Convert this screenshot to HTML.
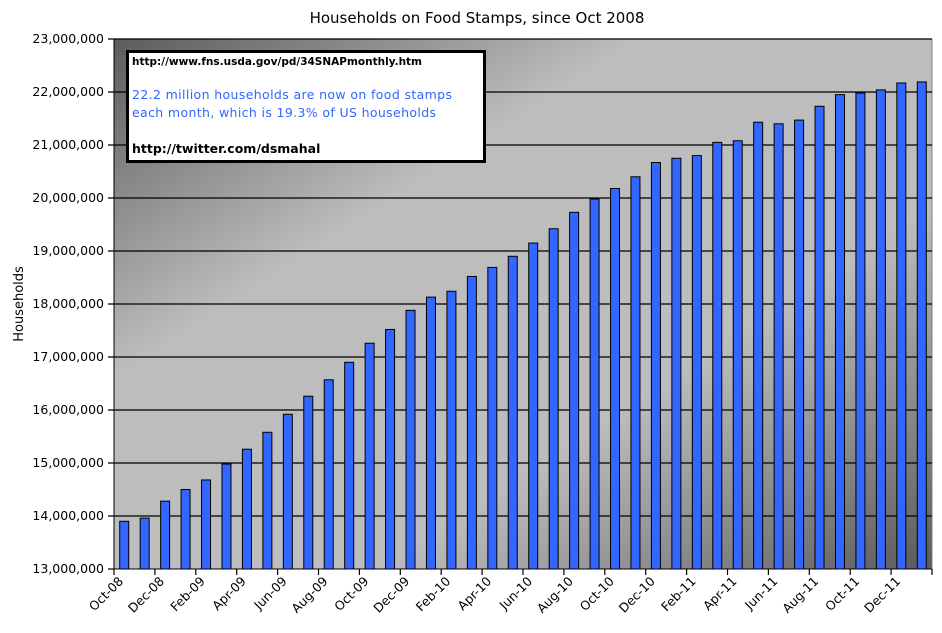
<!DOCTYPE html>
<html><head><meta charset="utf-8"><style>body{margin:0;background:#fff}svg{display:block}text{font-family:"DejaVu Sans","Liberation Sans",sans-serif}</style></head><body>
<svg width="942" height="633" xmlns="http://www.w3.org/2000/svg">
<defs><linearGradient id="g" x1="0" y1="0" x2="1" y2="1" gradientUnits="objectBoundingBox">
<stop offset="0" stop-color="#5c5c5c"/><stop offset="0.32" stop-color="#bdbdbd"/><stop offset="0.66" stop-color="#bdbdbd"/><stop offset="1" stop-color="#5a5a5a"/></linearGradient></defs>
<text x="477" y="23" font-size="15" text-anchor="middle" font-weight="500">Households on Food Stamps, since Oct 2008</text>
<rect x="114" y="39" width="818" height="530" fill="url(#g)" stroke="#808080"/>
<g id="grid" stroke="#000" stroke-width="1.2"></g>
<g id="bars"></g>
<line x1="114" y1="39" x2="114" y2="569" stroke="#000"/>
<line x1="114" y1="569" x2="932" y2="569" stroke="#000"/>
<g id="yl" font-size="12.5" text-anchor="end"></g>
<g id="xl" font-size="12.5" text-anchor="end"></g>
<text transform="translate(23,304) rotate(-90)" font-size="13" text-anchor="middle">Households</text>
<rect x="127.5" y="51.5" width="357" height="110" fill="#fff" stroke="#000" stroke-width="3"/>
<text x="132" y="65" font-size="10.5" font-weight="bold">http://www.fns.usda.gov/pd/34SNAPmonthly.htm</text>
<text x="132" y="99" font-size="12.5" fill="#3366ff" textLength="320">22.2 million households are now on food stamps</text>
<text x="132" y="117" font-size="12.5" fill="#3366ff" textLength="304">each month, which is 19.3% of US households</text>
<text x="132" y="153" font-size="12.5" font-weight="bold">http://twitter.com/dsmahal</text>
</svg>
<script>
var v=[13.9,13.96,14.28,14.5,14.68,14.98,15.26,15.58,15.92,16.26,16.57,16.9,17.26,17.52,17.88,18.13,18.24,18.52,18.69,18.9,19.15,19.42,19.73,19.98,20.18,20.4,20.67,20.75,20.8,21.05,21.08,21.43,21.4,21.47,21.73,21.95,21.98,22.04,22.17,22.19];
var ns="http://www.w3.org/2000/svg";
function el(p,t,a,tx){var e=document.createElementNS(ns,t);for(var k in a)e.setAttribute(k,a[k]);if(tx)e.textContent=tx;document.getElementById(p).appendChild(e);}
function Y(m){return 569-(m-13)*53;}
for(var m=13;m<=23;m++){var y=Y(m);if(m>13)el('grid','line',{x1:108,x2:932,y1:y,y2:y});else el('grid','line',{x1:108,x2:114,y1:y,y2:y});
el('yl','text',{x:104,y:y+4},m+',000,000');}
var w=20.45;
v.forEach(function(d,i){var cx=114+w*(i+0.5);el('bars','rect',{x:cx-4.5,y:Y(d),width:9,height:569-Y(d),fill:'#3366ff',stroke:'#000','stroke-width':1});});
var labs=['Oct-08','Dec-08','Feb-09','Apr-09','Jun-09','Aug-09','Oct-09','Dec-09','Feb-10','Apr-10','Jun-10','Aug-10','Oct-10','Dec-10','Feb-11','Apr-11','Jun-11','Aug-11','Oct-11','Dec-11'];
for(var i=0;i<=40;i+=2){var x=114+w*i;el('grid','line',{x1:x,x2:x,y1:569,y2:575});}
labs.forEach(function(l,j){var x=114+w*(2*j)+10;el('xl','text',{transform:'translate('+x+',582) rotate(-45)'},l);});
</script>
</body></html>
